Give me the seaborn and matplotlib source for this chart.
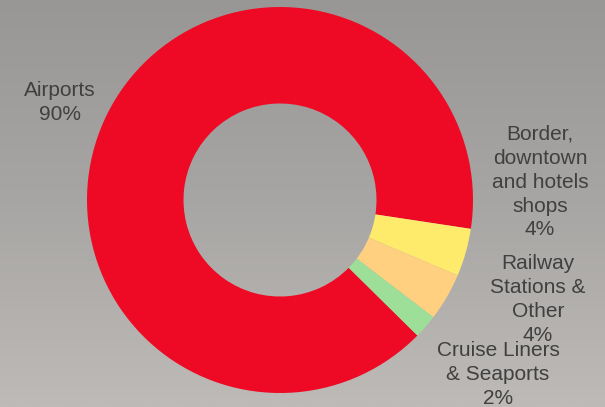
import numpy as np
import matplotlib
matplotlib.use("Agg")
import matplotlib.pyplot as plt
import seaborn as sns
from matplotlib.colors import LinearSegmentedColormap

# Sales share by channel
channels = ["Airports", "Border,\ndowntown\nand hotels\nshops",
            "Railway\nStations &\nOther", "Cruise Liners\n& Seaports"]
shares = [90, 4, 4, 2]
colors = ["#EE0A24", "#FFEB6B", "#FFD07F", "#9DDF99"]

# label anchor points (pie radius = 1, centered at origin)
label_xy = [(-1.140, 0.505), (1.347, 0.093), (1.337, -0.517), (1.130, -0.902)]

sns.set_style("white")
plt.rcParams["font.family"] = ["Liberation Sans", "DejaVu Sans"]

fig = plt.figure(figsize=(6.05, 4.07), dpi=100)

# soft vertical grey gradient behind the chart
bg = fig.add_axes([0, 0, 1, 1], zorder=0)
grad = np.linspace(0, 1, 256).reshape(-1, 1)
cmap = LinearSegmentedColormap.from_list("bg", ["#989795", "#a8a6a4", "#bdbab7"])
bg.imshow(grad, aspect="auto", cmap=cmap, extent=[0, 1, 0, 1], origin="upper")
bg.set_axis_off()

ax = fig.add_axes([0, 0, 1, 1], zorder=1)
ax.patch.set_alpha(0)
ax.pie(shares, colors=sns.color_palette(colors), startangle=-44.6,
       counterclock=False, radius=1.0,
       wedgeprops=dict(width=0.5, edgecolor="none", linewidth=0))

for name, val, (x, y) in zip(channels, shares, label_xy):
    ax.text(x, y, f"{name}\n{val}%", ha="center", va="center",
            fontsize=15, color="#404040", linespacing=1.33)

ax.set_aspect("equal")
ax.set_xlim(-280 / 193, 325 / 193)
ax.set_ylim(-207 / 193, 200 / 193)
ax.set_axis_off()

fig.savefig("out.png", dpi=100)
